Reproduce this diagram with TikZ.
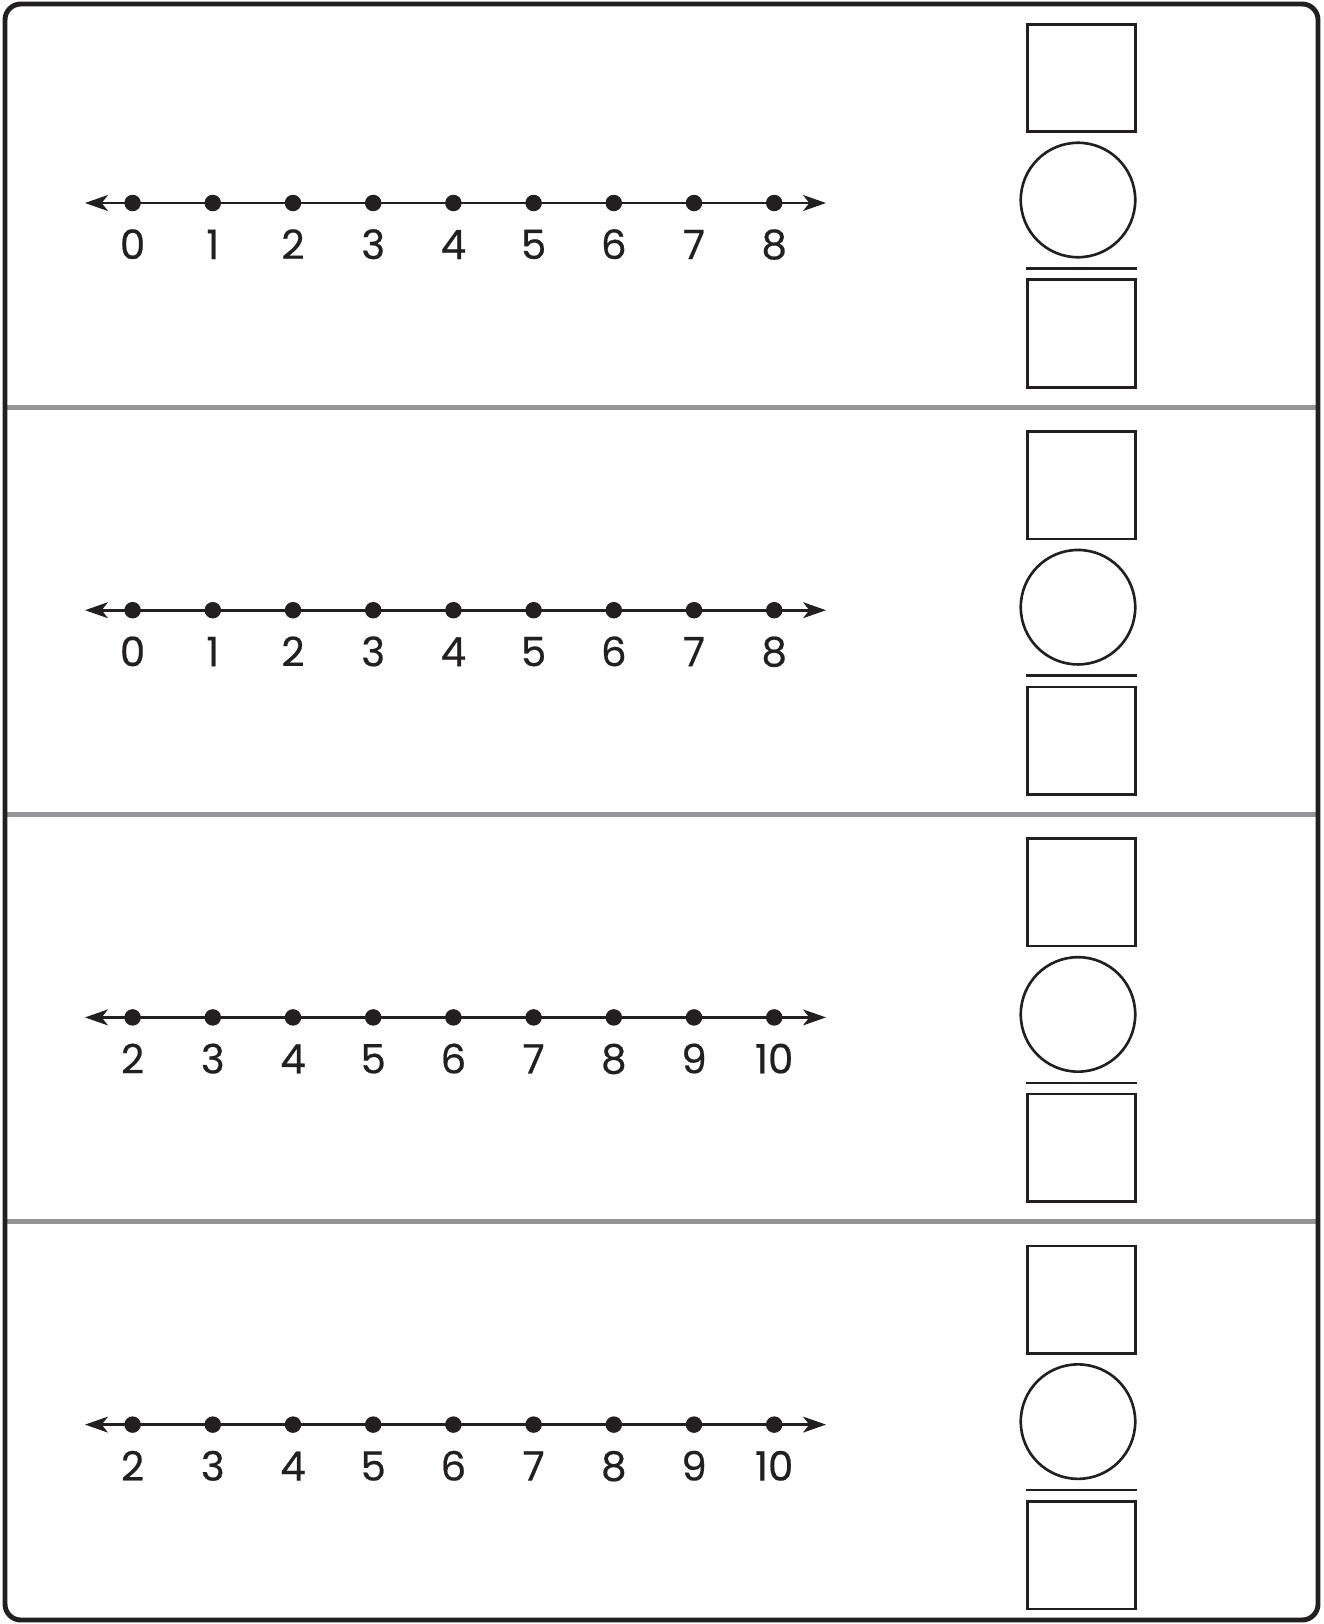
\documentclass[tikz,border=0pt]{standalone}
\usepackage{fontspec}
\setmainfont{Poppins}[FakeBold=0.5]
\usetikzlibrary{arrows.meta,positioning}
\definecolor{inkblack}{HTML}{231F20}
\definecolor{rulegray}{HTML}{939598}

\begin{document}
\begin{tikzpicture}[
  x=0.02cm,y=-0.02cm,
  frame/.style={draw=inkblack,line width=2.8pt,rounded corners=9pt},
  divider/.style={draw=rulegray,line width=2.8pt},
  numline/.style={{Stealth[length=13pt,width=9pt,inset=3.5pt]}-{Stealth[length=13pt,width=9pt,inset=3.5pt]},line width=1.5pt,color=inkblack},
  dot/.style={circle,fill=inkblack,inner sep=0pt,minimum size=0.33cm},
  numlabel/.style={font=\fontsize{23}{26}\selectfont,text=inkblack,anchor=base,inner sep=0pt},
  ansbox/.style={draw=inkblack,line width=1.5pt,minimum width=2.17cm,minimum height=2.15cm,inner sep=0pt},
  anscircle/.style={circle,draw=inkblack,line width=1.5pt,minimum size=2.29cm,inner sep=0pt},
  barline/.style={draw=inkblack,line width=1.5pt}
]
\useasboundingbox (0,0) rectangle (1323,1624);

% row dividers
\foreach \k in {1,2,3}{
  \pgfmathsetmacro\oy{407.2*\k}
  \coordinate (divl-\k) at (5,\oy);
  \coordinate (divr-\k) at (1318,\oy);
  \draw[divider] (divl-\k) -- (divr-\k);
}

% one row per exercise
\foreach \k/\first in {0/0,1/0,2/2,3/2}{
  \pgfmathsetmacro\oy{407.2*\k}
  \coordinate (left-\k) at (85,203+\oy);
  \coordinate (right-\k) at (826,203+\oy);
  \draw[numline] (left-\k) -- (right-\k);
  \foreach \i in {0,...,8}{
    \pgfmathtruncatemacro\val{\first+\i}
    \node[dot] (dot-\k-\i) at (132.6+80.2*\i,203+\oy) {};
    \node[numlabel] (lbl-\k-\i) at (132.6+80.2*\i,259+\oy) {\val};
  }
  % answer boxes
  \node[ansbox] (top-\k) at (1081.5,78+\oy) {};
  \node[anscircle] (ring-\k) at (1078,200+\oy) {};
  \node[ansbox] (bot-\k) at (1081.5,333.5+\oy) {};
  \draw[barline] ([yshift=0.2cm]bot-\k.north west) -- ([yshift=0.2cm]bot-\k.north east);
}

\draw[frame] (5,4) rectangle (1318,1620);
\end{tikzpicture}
\end{document}
